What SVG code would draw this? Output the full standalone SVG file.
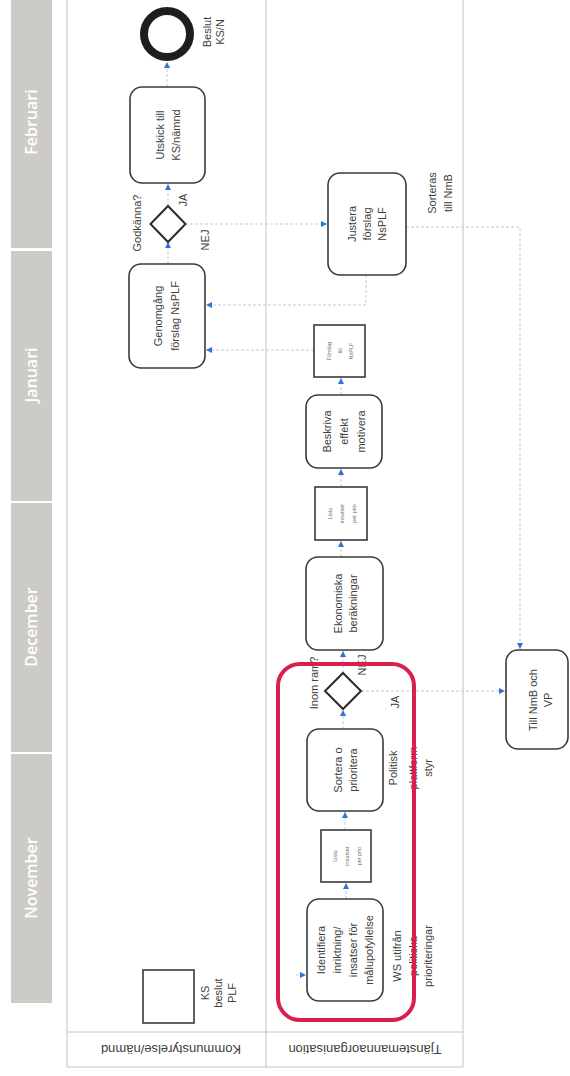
<svg xmlns="http://www.w3.org/2000/svg" width="570" height="1076" viewBox="0 0 570 1076">
<defs>
<style>
.month{fill:#cdcbc8}
.mtxt{font-family:"Open Sans","Liberation Sans",sans-serif;font-size:16px;font-weight:600;fill:#ffffff;text-anchor:middle}
.grid{stroke:#c4c4c4;stroke-width:1;fill:none}
.task{fill:#ffffff;stroke:#3a3a3a;stroke-width:1.6}
.data{fill:#ffffff;stroke:#3a3a3a;stroke-width:1.6}
.gw{fill:#ffffff;stroke:#2a2a2a;stroke-width:2}
.t{font-family:"Liberation Sans","DejaVu Sans",sans-serif;font-size:11px;fill:#404040;text-anchor:middle}
.ts{font-family:"Liberation Sans","DejaVu Sans",sans-serif;font-size:5.5px;fill:#707070;text-anchor:middle}
.lbl{font-family:"Liberation Sans","DejaVu Sans",sans-serif;font-size:11px;fill:#404040;text-anchor:middle}
.hdr{font-family:"Liberation Sans","DejaVu Sans",sans-serif;font-size:13px;fill:#404040;text-anchor:middle}
.flow{stroke:#b9cbe6;stroke-width:1;stroke-dasharray:3 2;fill:none}
.hl{fill:none;stroke:#d81f4f;stroke-width:4}
</style>
<marker id="ah" viewBox="0 0 10 10" refX="10" refY="5" markerWidth="6" markerHeight="6" markerUnits="userSpaceOnUse" orient="auto">
<path d="M0,0 L10,5 L0,10 z" fill="#2f74d0"/>
</marker>
</defs>
<rect width="570" height="1076" fill="#ffffff"/>

<g id="months">
<rect class="month" x="11" y="0" width="41" height="248"/>
<rect class="month" x="11" y="251" width="41" height="250"/>
<rect class="month" x="11" y="503" width="41" height="249"/>
<rect class="month" x="11" y="754" width="41" height="249"/>
<text class="mtxt" transform="translate(37,122) rotate(-90)">Februari</text>
<text class="mtxt" transform="translate(37,375) rotate(-90)">Januari</text>
<text class="mtxt" transform="translate(37,627) rotate(-90)">December</text>
<text class="mtxt" transform="translate(37,878) rotate(-90)">November</text>
</g>

<g id="lanes">
<line class="grid" x1="67" y1="0" x2="67" y2="1067"/>
<line class="grid" x1="266" y1="0" x2="266" y2="1067"/>
<line class="grid" x1="463" y1="0" x2="463" y2="1067"/>
<line class="grid" x1="67" y1="1032" x2="463" y2="1032"/>
<line class="grid" x1="67" y1="1067" x2="463" y2="1067"/>
<text class="hdr" transform="translate(171,1050) rotate(180)" y="5">Kommunstyrelse/nämnd</text>
<text class="hdr" transform="translate(365,1050) rotate(180)" y="5">Tjänstemannaorganisation</text>
</g>

<g id="connectors">
<line class="flow" x1="346" y1="899" x2="346" y2="883" marker-end="url(#ah)"/>
<line class="flow" x1="345" y1="830" x2="345" y2="812" marker-end="url(#ah)"/>
<line class="flow" x1="343" y1="729" x2="343" y2="710" marker-end="url(#ah)"/>
<line class="flow" x1="343" y1="673" x2="343" y2="651" marker-end="url(#ah)"/>
<line class="flow" x1="341" y1="557" x2="341" y2="541" marker-end="url(#ah)"/>
<line class="flow" x1="341" y1="487" x2="341" y2="469" marker-end="url(#ah)"/>
<line class="flow" x1="341" y1="395" x2="341" y2="378" marker-end="url(#ah)"/>
<line class="flow" x1="314" y1="350" x2="206" y2="350" marker-end="url(#ah)"/>
<polyline class="flow" points="366,275 366,305 206,305" marker-end="url(#ah)"/>
<line class="flow" x1="168" y1="264" x2="168" y2="242" marker-end="url(#ah)"/>
<line class="flow" x1="168" y1="206" x2="168" y2="184" marker-end="url(#ah)"/>
<line class="flow" x1="167" y1="87" x2="167" y2="62" marker-end="url(#ah)"/>
<line class="flow" x1="185" y1="224" x2="327" y2="224" marker-end="url(#ah)"/>
<polyline class="flow" points="406,227 520,227 520,649" marker-end="url(#ah)"/>
<line class="flow" x1="361" y1="691" x2="505" y2="691" marker-end="url(#ah)"/>
<line class="flow" x1="296" y1="975" x2="306" y2="975" marker-end="url(#ah)"/>
</g>

<g id="end-beslut">
<circle cx="167" cy="34" r="23" fill="#ffffff" stroke="#1e1e1e" stroke-width="8"/>
<text class="lbl" font-size="10" transform="translate(214,32) rotate(-90)"><tspan x="0" y="-3">Beslut</tspan><tspan x="0" y="10">KS/N</tspan></text>
</g>

<g id="utskick">
<rect class="task" x="130" y="87" width="75" height="96" rx="12"/>
<text class="t" transform="translate(167.5,135) rotate(-90)"><tspan x="0" y="-4">Utskick till</tspan><tspan x="0" y="12">KS/nämnd</tspan></text>
</g>

<g id="gw-godkanna">
<polygon class="gw" points="168,206 185.5,224 168,242 150.5,224"/>
<text class="lbl" transform="translate(137,223) rotate(-90)" y="4">Godkänna?</text>
<text class="lbl" transform="translate(183,200) rotate(-90)" y="4">JA</text>
<text class="lbl" transform="translate(205,240) rotate(-90)" y="4">NEJ</text>
</g>

<g id="genomgang">
<rect class="task" x="129" y="264" width="76" height="104" rx="12"/>
<text class="t" transform="translate(167,316) rotate(-90)"><tspan x="0" y="-5">Genomgång</tspan><tspan x="0" y="12">förslag NsPLF</tspan></text>
</g>

<g id="justera">
<rect class="task" x="328" y="173" width="78" height="102" rx="12"/>
<text class="t" transform="translate(367,224) rotate(-90)"><tspan x="0" y="-11">Justera</tspan><tspan x="0" y="4">förslag</tspan><tspan x="0" y="19">NsPLF</tspan></text>
</g>
<text class="lbl" transform="translate(440,193) rotate(-90)"><tspan x="0" y="-4">Sorteras</tspan><tspan x="0" y="12">till NmB</tspan></text>

<g id="forslag">
<rect class="data" x="314" y="325" width="51" height="52"/>
<text class="ts" transform="translate(339.5,351) rotate(-90)"><tspan x="0" y="-9">Förslag</tspan><tspan x="0" y="2">till</tspan><tspan x="0" y="13">NsPLF</tspan></text>
</g>

<g id="beskriva">
<rect class="task" x="306" y="395" width="76" height="73" rx="12"/>
<text class="t" transform="translate(344,431.5) rotate(-90)"><tspan x="0" y="-13">Beskriva</tspan><tspan x="0" y="4">effekt</tspan><tspan x="0" y="21">motivera</tspan></text>
</g>

<g id="lista1">
<rect class="data" x="315" y="487" width="52" height="53"/>
<text class="ts" transform="translate(341,513.5) rotate(-90)"><tspan x="0" y="-9">Lista</tspan><tspan x="0" y="3">insatser</tspan><tspan x="0" y="15">per prio</tspan></text>
</g>

<g id="ekonomiska">
<rect class="task" x="306" y="557" width="77" height="93" rx="12"/>
<text class="t" transform="translate(344.5,603.5) rotate(-90)"><tspan x="0" y="-3">Ekonomiska</tspan><tspan x="0" y="12">beräkningar</tspan></text>
</g>

<g id="gw-inomram">
<polygon class="gw" points="343,673 361,691 343,709 325,691"/>
<text class="lbl" transform="translate(314,683) rotate(-90)" y="4">Inom ram?</text>
<text class="lbl" transform="translate(362,665) rotate(-90)" y="4">NEJ</text>
<text class="lbl" transform="translate(395,702) rotate(-90)" y="4">JA</text>
</g>

<g id="sortera">
<rect class="task" x="307" y="729" width="76" height="82" rx="12"/>
<text class="t" transform="translate(345,770) rotate(-90)"><tspan x="0" y="-3">Sortera o</tspan><tspan x="0" y="12">prioritera</tspan></text>
</g>
<text class="lbl" transform="translate(407,768) rotate(-90)"><tspan x="0" y="-10">Politisk</tspan><tspan x="0" y="10">plattform</tspan><tspan x="0" y="25">styr</tspan></text>

<g id="lista2">
<rect class="data" x="321" y="830" width="50" height="52"/>
<text class="ts" transform="translate(346,856) rotate(-90)"><tspan x="0" y="-9">Lista</tspan><tspan x="0" y="3">insatser</tspan><tspan x="0" y="15">per prio</tspan></text>
</g>

<g id="identifiera">
<rect class="task" x="307" y="899" width="76" height="102" rx="12"/>
<text class="t" transform="translate(345,950) rotate(-90)"><tspan x="0" y="-20">Identifiera</tspan><tspan x="0" y="-4">inriktning/</tspan><tspan x="0" y="12">insatser för</tspan><tspan x="0" y="28">målupofyllelse</tspan></text>
</g>
<text class="lbl" transform="translate(410,956) rotate(-90)"><tspan x="0" y="-9">WS utifrån</tspan><tspan x="0" y="7">politiska</tspan><tspan x="0" y="22">prioriteringar</tspan></text>

<g id="ks-beslut">
<rect class="data" x="143" y="970" width="51" height="53"/>
<text class="lbl" font-size="10" transform="translate(219,993) rotate(-90)"><tspan x="0" y="-10">KS</tspan><tspan x="0" y="3">beslut</tspan><tspan x="0" y="17">PLF</tspan></text>
</g>

<g id="till-nmb">
<rect class="task" x="506" y="650" width="62" height="99" rx="12"/>
<text class="t" transform="translate(539,700) rotate(-90)"><tspan x="0" y="-2">Till NmB och</tspan><tspan x="0" y="13">VP</tspan></text>
</g>

<g id="highlight">
<rect class="hl" x="278" y="664" width="136" height="356" rx="22"/>
</g>
</svg>
